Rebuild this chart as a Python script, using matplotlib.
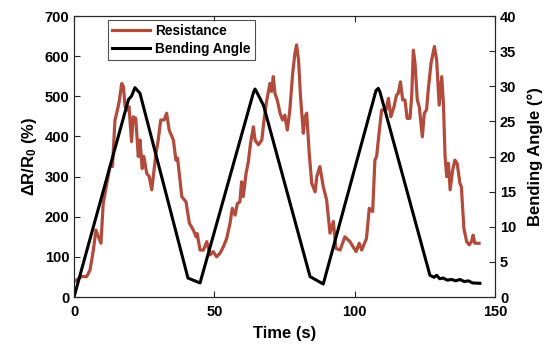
import matplotlib.pyplot as plt
import numpy as np

plt.rcParams['font.family'] = ['Liberation Sans', 'DejaVu Sans']
plt.rcParams['font.weight'] = 'bold'
plt.rcParams['mathtext.fontset'] = 'custom'
plt.rcParams['mathtext.rm'] = 'Liberation Sans:bold'
plt.rcParams['mathtext.it'] = 'Liberation Sans:bold'
plt.rcParams['mathtext.bf'] = 'Liberation Sans:bold'

# Resistance change (left axis)
res_t = [0, 2.7, 4.5, 5.7, 6.9, 7.8, 8.7, 9.6, 10.4, 11.6, 12.8, 13.7, 14.6, 15.2, 16.1,
         17.0, 17.6, 18.2, 19.0, 19.6, 20.5, 21.1, 22.0, 22.9, 23.5, 24.3, 24.9, 25.9,
         26.8, 27.7, 28.5, 29.2, 30.0, 30.9, 32.1, 33.0, 33.9, 35.4, 36.3, 36.9, 38.4,
         39.9, 41.1, 42.5, 43.5, 43.9, 44.9, 46.1, 47.3, 48.5, 49.6, 50.8, 52.0, 53.2,
         54.4, 55.6, 56.4, 57.4, 58.2, 59.1, 59.7, 60.3, 61.3, 62.1, 62.9, 63.9, 64.5,
         65.7, 66.9, 67.7, 68.6, 69.8, 70.4, 71.0, 71.6, 72.4, 73.4, 74.3, 75.1, 76.0,
         76.9, 77.9, 78.7, 79.3, 80.0, 80.7, 81.7, 82.3, 82.9, 83.8, 84.7, 85.9, 86.5,
         87.6, 88.8, 90.0, 91.2, 92.4, 93.3, 94.8, 96.5, 98.3, 100.5, 101.6, 102.5,
         104.2, 105.2, 106.4, 107.2, 107.8, 108.8, 109.6, 110.2, 111.2, 112.0, 112.9,
         114.0, 114.9, 115.5, 116.3, 117.1, 117.9, 118.7, 119.7, 120.3, 120.9, 121.5,
         122.3, 123.0, 124.1, 124.8, 125.6, 126.2, 127.2, 128.4, 129.2, 130.1, 131.0,
         131.6, 132.2, 132.8, 133.4, 134.0, 134.9, 135.7, 136.5, 137.5, 138.0, 138.9,
         139.9, 140.8, 141.6, 142.2, 142.8, 144.3]
res_v = [38, 51, 51, 67, 117, 167, 150, 134, 233, 279, 325, 325, 441, 458, 487,
         532, 524, 474, 466, 474, 387, 449, 445, 350, 391, 320, 350, 308,
         300, 267, 316, 358, 391, 441, 441, 458, 416, 391, 341, 346, 250,
         237, 184, 167, 150, 158, 117, 117, 138, 105, 113, 100, 109, 125,
         146, 184, 221, 204, 233, 237, 287, 250, 308, 337, 383, 424, 391,
         379, 391, 441, 487, 532, 512, 549, 507, 491, 458, 441, 453, 416,
         466, 557, 607, 628, 590, 499, 408, 449, 458, 358, 283, 262, 300,
         325, 275, 242, 159, 188, 121, 117, 150, 138, 113, 134, 117,
         146, 221, 213, 341, 350, 416, 466, 466, 466, 495, 449,
         474, 503, 507, 536, 491, 491, 445, 445, 499, 615, 582,
         491, 474, 399, 458, 466, 516, 582, 624, 590, 478, 549,
         483, 350, 300, 333, 267, 316, 341, 333, 283, 275, 171,
         138, 130, 138, 154, 134, 134]

# Bending angle (right axis)
ang_t = [0, 19.4, 20.5, 21.7, 23.5, 40.6, 44.9, 64.0, 64.5, 65.2, 67.5, 84.1, 88.8,
         107.6, 108.4, 109.0, 126.8, 128.3, 129.2, 130.3, 131.5, 133.0, 134.5, 136.0,
         137.5, 139.0, 140.5, 142.0, 144.6]
ang_v = [0, 28.1, 28.6, 29.8, 29.0, 2.7, 2.0, 29.2, 29.6, 29.1, 27.3, 2.9, 1.85,
         29.4, 29.7, 29.2, 3.1, 2.8, 3.1, 2.6, 2.7, 2.4, 2.5, 2.3, 2.5, 2.2, 2.3, 2.0, 1.95]

red = '#B24B3B'
axc = '#262626'

fig = plt.figure(figsize=(5.47, 3.45), dpi=100)
ax = fig.add_axes([0.1353, 0.1391, 0.7697, 0.8145])
ax2 = ax.twinx()

l1, = ax.plot(res_t, res_v, color=red, lw=2.3, label='Resistance')
l2, = ax2.plot(ang_t, ang_v, color='black', lw=2.2, label='Bending Angle')

ax.set_xlim(0, 150)
ax.set_ylim(0, 700)
ax2.set_ylim(0, 40)
ax.set_xticks([0, 50, 100, 150])
ax.set_yticks(np.arange(0, 701, 100))
ax2.set_yticks(np.arange(0, 41, 5))

ax.set_xlabel('Time (s)', fontsize=12, fontweight='bold', labelpad=5)
ax.set_ylabel('ΔR/R$_0$ (%)', fontsize=12, fontweight='bold')
ax2.set_ylabel('Bending Angle (°)', fontsize=12, fontweight='bold', labelpad=8)

for a in (ax, ax2):
    a.tick_params(direction='in', length=4, width=0.8, labelsize=10.5, colors=axc,
                  labelcolor='black')
    for s in a.spines.values():
        s.set_color(axc)
        s.set_linewidth(0.8)
ax.tick_params(top=True)
ax.tick_params(axis='x', pad=6)

leg = ax.legend(handles=[l1, l2], loc='upper left', bbox_to_anchor=(0.081, 0.986),
                prop={'size': 9.8, 'weight': 'bold'}, frameon=True, fancybox=False,
                handlelength=2.8, borderpad=0.3, labelspacing=0.3, handletextpad=0.35,
                borderaxespad=0)
leg.get_frame().set_edgecolor(axc)
leg.get_frame().set_linewidth(0.8)

fig.savefig('out.png', dpi=100)
